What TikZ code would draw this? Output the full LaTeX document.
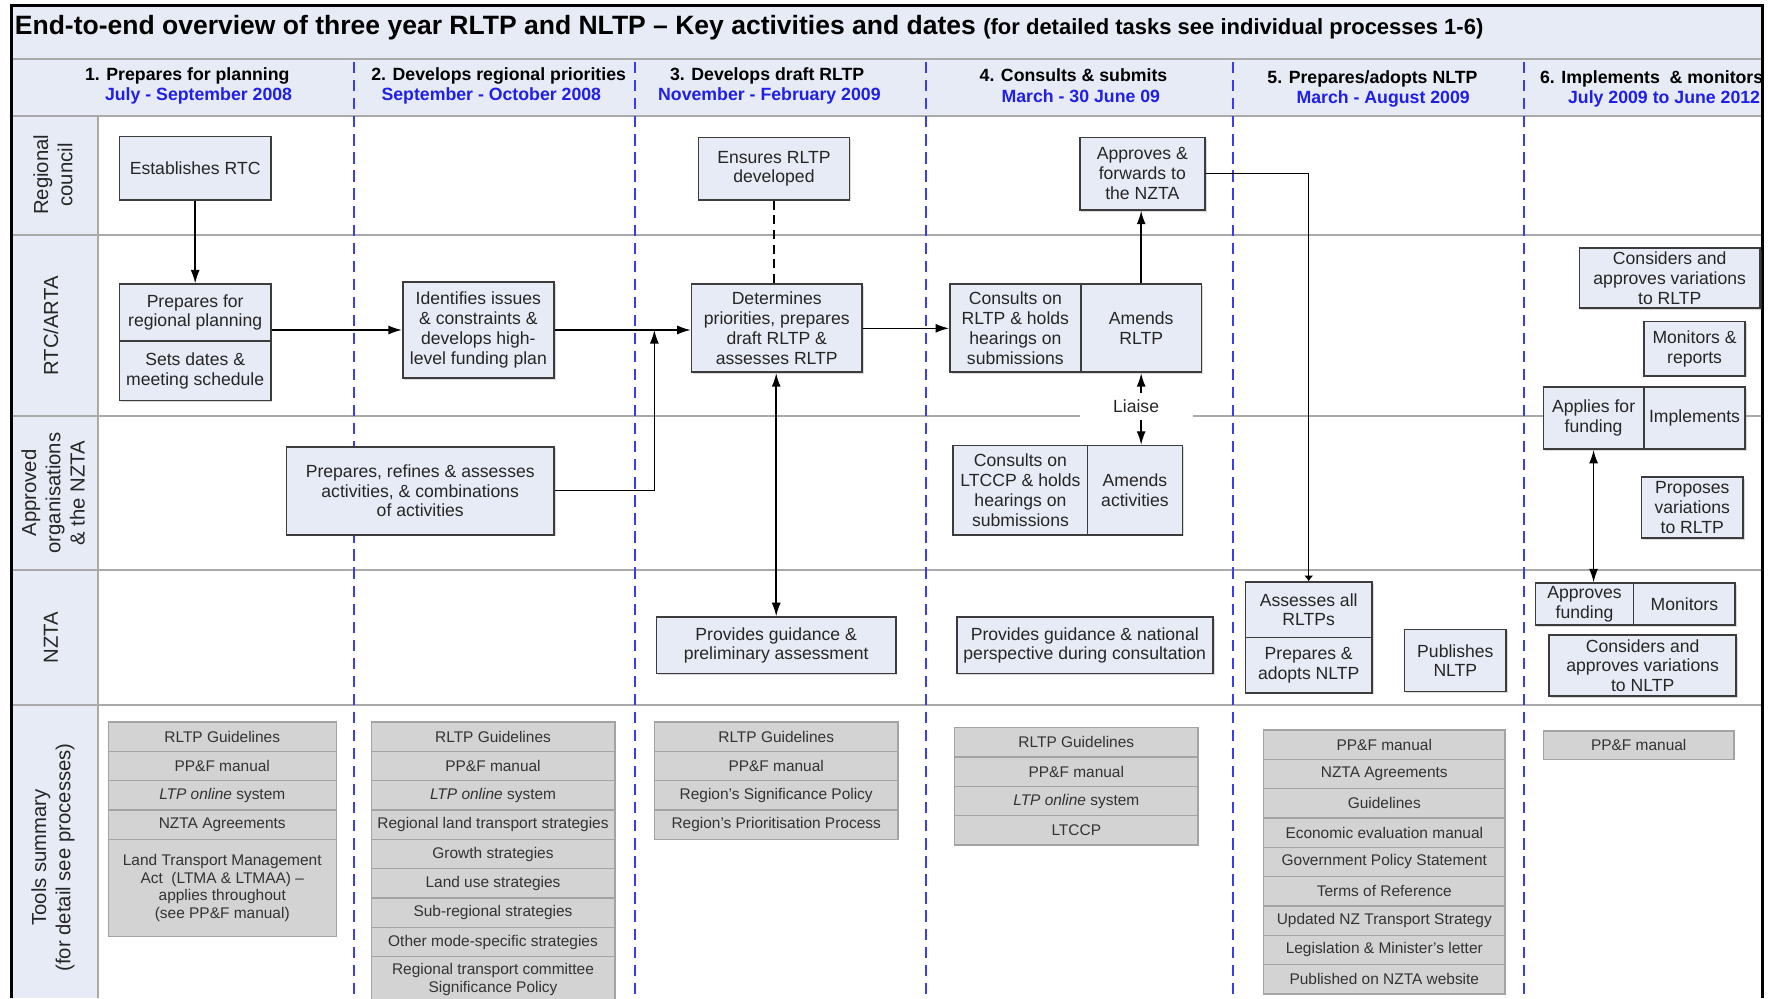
\documentclass[tikz,border=0pt]{standalone}
\usepackage{fontspec}
\setmainfont{Liberation Sans}
\usetikzlibrary{arrows.meta,shadows}

\definecolor{paleblue}{HTML}{E7EBF5}
\definecolor{boxedge}{HTML}{3C3C3C}
\definecolor{toolgray}{HTML}{D3D3D3}
\definecolor{tooledge}{HTML}{A3A3A3}
\definecolor{lanegray}{HTML}{A9A9A9}
\definecolor{phaseblue}{HTML}{3B3BF2}
\definecolor{dateblue}{HTML}{1F1FE8}

\begin{document}
\begin{tikzpicture}[x=1pt, y=-1pt, >={Latex[length=12pt,width=8pt]},
	task/.style={draw=boxedge, line width=1.5pt, fill=paleblue, align=center, inner sep=0pt, text=black!85,
		font=\fontsize{15.6}{17.5}\selectfont, drop shadow={opacity=0.3, shadow xshift=1.5pt, shadow yshift=-1.5pt}},
	tool/.style={draw=tooledge, line width=1.2pt, fill=toolgray, align=center, inner sep=0pt, text=black!80,
		font=\fontsize{13.7}{15.7}\selectfont, minimum height=26pt},
	lane/.style={font=\fontsize{18}{21.5}\selectfont, rotate=90, align=center, text=black!85},
	phase/.style={font=\bfseries\fontsize{15.7}{17}\selectfont, inner sep=0pt},
	date/.style={phase, text=dateblue},
	flow/.style={->, line width=1.3pt},
	divider/.style={phaseblue, line width=1.5pt, dash pattern=on 10pt off 6pt}]
	\useasboundingbox (0,0) rectangle (1568,885);

	% === background bands ===
	\fill[paleblue] (10,5) rectangle (1562,103);
	\fill[paleblue] (10,103) rectangle (87,885);
	\draw[lanegray, line width=1.8pt] (10,52) -- (1562,52);
	\draw[lanegray, line width=1.8pt] (10,103) -- (1562,103);
	\draw[lanegray, line width=1.8pt] (10,208) -- (1562,208);
	\draw[lanegray, line width=1.8pt] (10,369) -- (1562,369);
	\draw[lanegray, line width=1.8pt] (10,505) -- (1562,505);
	\draw[lanegray, line width=1.8pt] (10,625) -- (1562,625);
	\draw[lanegray, line width=1.8pt] (87,103) -- (87,885);

	% phase dividers
	\draw[divider] (314,55) -- (314,885);
	\draw[divider] (563,55) -- (563,885);
	\draw[divider] (821,55) -- (821,885);
	\draw[divider] (1093,55) -- (1093,885);
	\draw[divider] (1351,55) -- (1351,885);

	% frame
	\draw[line width=2.5pt] (10,885) -- (10,5) -- (1562,5) -- (1562,885);

	% === title and phase headings ===
	\node[anchor=base west, inner sep=0pt, font=\bfseries\fontsize{23.5}{26}\selectfont] (title) at (13,31)
		{End-to-end overview of three year RLTP and NLTP – Key activities and dates {\fontsize{19.5}{22}\selectfont (for detailed tasks see individual processes 1-6)}};

	\node[phase] (ph1) at (166,67) {1. Prepares for planning};
	\node[date] (dt1) at (176,85) {July - September 2008};
	\node[phase] (ph2) at (442,67) {2. Develops regional priorities};
	\node[date] (dt2) at (435.5,85) {September - October 2008};
	\node[phase] (ph3) at (680,67) {3. Develops draft RLTP};
	\node[date] (dt3) at (682,85) {November - February 2009};
	\node[phase] (ph4) at (951.5,67) {4. Consults \& submits};
	\node[date] (dt4) at (958,85) {March - 30 June 09};
	\node[phase] (ph5) at (1216.5,70) {5. Prepares/adopts NLTP};
	\node[date] (dt5) at (1226,88) {March - August 2009};
	\node[phase] (ph6) at (1464,70) {6. Implements\ \ \& monitors};
	\node[date] (dt6) at (1475,88) {July 2009 to June 2012};

	% lane labels
	\node[lane] (lnRC) at (47,155) {Regional\\council};
	\node[lane] (lnRTC) at (45,289) {RTC/ARTA};
	\node[lane] (lnAO) at (47,437) {Approved\\organisations\\\& the NZTA};
	\node[lane] (lnNZTA) at (45,565) {NZTA};
	\node[lane] (lnTools) at (47,760) {Tools summary\\(for detail see processes)};

	% === activities ===
	% Regional council
	\node[task, minimum width=134pt, minimum height=56pt] (establish) at (173,149) {Establishes RTC};
	\node[task, minimum width=134pt, minimum height=55pt] (ensure) at (686,149.5) {Ensures RLTP\\developed};
	\node[task, minimum width=111pt, minimum height=64pt] (forward) at (1012.5,154) {Approves \&\\forwards to\\the NZTA};

	% RTC/ARTA
	\node[task, minimum width=134pt, minimum height=50pt] (prepplan) at (173,277) {Prepares for\\regional planning};
	\node[task, minimum width=134pt, minimum height=53pt] (setdates) at (173,328.5) {Sets dates \&\\meeting schedule};
	\node[task, minimum width=134pt, minimum height=85pt] (issues) at (424,292.5) {Identifies issues\\\& constraints \&\\develops high-\\level funding plan};
	\node[task, minimum width=151pt, minimum height=78pt] (priorities) at (688.5,291) {Determines\\priorities, prepares\\draft RLTP \&\\assesses RLTP};
	\node[task, minimum width=116pt, minimum height=78pt] (consultrltp) at (900,291) {Consults on\\RLTP \& holds\\hearings on\\submissions};
	\node[task, minimum width=107pt, minimum height=78pt] (amendrltp) at (1011.5,291) {Amends\\RLTP};
	\node[task, minimum width=160pt, minimum height=53pt] (varrltp) at (1480,246.5) {Considers and\\approves variations\\to RLTP};
	\node[task, minimum width=90pt, minimum height=48pt] (monitors) at (1502,309) {Monitors \&\\reports};
	\node[task, minimum width=89pt, minimum height=55pt] (applies) at (1412.5,370.5) {Applies for\\funding};
	\node[task, minimum width=90pt, minimum height=55pt] (implements) at (1502,370.5) {Implements};

	% Approved organisations & the NZTA
	\node[task, minimum width=237pt, minimum height=78pt] (refine) at (372.5,435) {Prepares, refines \& assesses\\activities, \& combinations\\of activities};
	\node[task, minimum width=119pt, minimum height=79pt] (consultltccp) at (904.5,434.5) {Consults on\\LTCCP \& holds\\hearings on\\submissions};
	\node[task, minimum width=84pt, minimum height=79pt] (amendact) at (1006,434.5) {Amends\\activities};
	\node[task, minimum width=90pt, minimum height=54pt] (propose) at (1500,450) {Proposes\\variations\\to RLTP};

	% NZTA
	\node[task, minimum width=212pt, minimum height=50pt] (guidance) at (688,572) {Provides guidance \&\\preliminary assessment};
	\node[task, minimum width=227pt, minimum height=50pt] (national) at (961.5,572) {Provides guidance \& national\\perspective during consultation};
	\node[task, minimum width=112pt, minimum height=49pt] (assessall) at (1160,540.5) {Assesses all\\RLTPs};
	\node[task, minimum width=112pt, minimum height=49pt] (adopt) at (1160,589.5) {Prepares \&\\adopts NLTP};
	\node[task, minimum width=90pt, minimum height=55pt] (publish) at (1290,585.5) {Publishes\\NLTP};
	\node[task, minimum width=87pt, minimum height=37pt] (approvefund) at (1404.5,535.5) {Approves\\funding};
	\node[task, minimum width=90pt, minimum height=37pt] (monitornzta) at (1493,535.5) {Monitors};
	\node[task, minimum width=166pt, minimum height=54pt] (varnltp) at (1456,590) {Considers and\\approves variations\\to NLTP};

	% === connectors ===
	\coordinate (merge) at (580,292.5);
	\draw[flow] (establish) -- (prepplan);
	\draw[flow] (issues.west -| prepplan.east) -- (issues.west);
	\draw[flow] (issues.east) -- (issues.east -| priorities.west);
	\draw[flow] (refine.east) -| (merge);
	\draw[line width=1.3pt, dash pattern=on 8pt off 5pt] (ensure.south) -- (ensure.south |- priorities.north);
	\draw[flow, <->] (priorities.south -| guidance.north) -- (guidance.north);
	\draw[flow] (priorities.east) -- (consultrltp.west);
	\draw[flow] (amendrltp.north) -- (amendrltp.north |- forward.south);
	\draw[flow, <->] (amendrltp.south) -- (amendrltp.south |- amendact.north);
	\node[fill=white, minimum width=100pt, minimum height=24pt, inner sep=0pt, text=black!85,
		font=\fontsize{15.6}{17.5}\selectfont] (liaise) at (1007,360) {Liaise};
	\draw[line width=1.3pt, -{Latex[length=5pt,width=8pt]}] (forward.east) -| (assessall.north);
	\draw[flow, <->] (applies.south) -- (applies.south |- approvefund.north);

	% === tools summary ===
	\node[tool, minimum width=202pt] (t1a) at (197,653) {RLTP Guidelines};
	\node[tool, minimum width=202pt] (t1b) at (197,679) {PP\&F manual};
	\node[tool, minimum width=202pt] (t1c) at (197,705) {\textit{LTP online} system};
	\node[tool, minimum width=202pt] (t1d) at (197,731) {NZTA Agreements};
	\node[tool, minimum width=202pt, minimum height=86pt] (t1e) at (197,787) {Land Transport Management\\Act\ \ (LTMA \& LTMAA) –\\applies throughout\\(see PP\&F manual)};

	\node[tool, minimum width=216pt] (t2a) at (437,653) {RLTP Guidelines};
	\node[tool, minimum width=216pt] (t2b) at (437,679) {PP\&F manual};
	\node[tool, minimum width=216pt] (t2c) at (437,705) {\textit{LTP online} system};
	\node[tool, minimum width=216pt] (t2d) at (437,731) {Regional land transport strategies};
	\node[tool, minimum width=216pt] (t2e) at (437,757) {Growth strategies};
	\node[tool, minimum width=216pt] (t2f) at (437,783) {Land use strategies};
	\node[tool, minimum width=216pt] (t2g) at (437,809) {Sub-regional strategies};
	\node[tool, minimum width=216pt] (t2h) at (437,835) {Other mode-specific strategies};
	\node[tool, minimum width=216pt, minimum height=40pt] (t2i) at (437,868) {Regional transport committee\\Significance Policy};

	\node[tool, minimum width=216pt] (t3a) at (688,653) {RLTP Guidelines};
	\node[tool, minimum width=216pt] (t3b) at (688,679) {PP\&F manual};
	\node[tool, minimum width=216pt] (t3c) at (688,705) {Region's Significance Policy};
	\node[tool, minimum width=216pt] (t3d) at (688,731) {Region's Prioritisation Process};

	\node[tool, minimum width=216pt] (t4a) at (954,658) {RLTP Guidelines};
	\node[tool, minimum width=216pt] (t4b) at (954,684) {PP\&F manual};
	\node[tool, minimum width=216pt] (t4c) at (954,710) {\textit{LTP online} system};
	\node[tool, minimum width=216pt] (t4d) at (954,736) {LTCCP};

	\node[tool, minimum width=214pt] (t5a) at (1227,660) {PP\&F manual};
	\node[tool, minimum width=214pt] (t5b) at (1227,686) {NZTA Agreements};
	\node[tool, minimum width=214pt] (t5c) at (1227,712) {Guidelines};
	\node[tool, minimum width=214pt] (t5d) at (1227,738) {Economic evaluation manual};
	\node[tool, minimum width=214pt] (t5e) at (1227,764) {Government Policy Statement};
	\node[tool, minimum width=214pt] (t5f) at (1227,790) {Terms of Reference};
	\node[tool, minimum width=214pt] (t5g) at (1227,816) {Updated NZ Transport Strategy};
	\node[tool, minimum width=214pt] (t5h) at (1227,842) {Legislation \& Minister's letter};
	\node[tool, minimum width=214pt] (t5i) at (1227,868) {Published on NZTA website};

	\node[tool, minimum width=169pt, minimum height=25pt] (t6a) at (1452.5,660.5) {PP\&F manual};
\end{tikzpicture}
\end{document}
